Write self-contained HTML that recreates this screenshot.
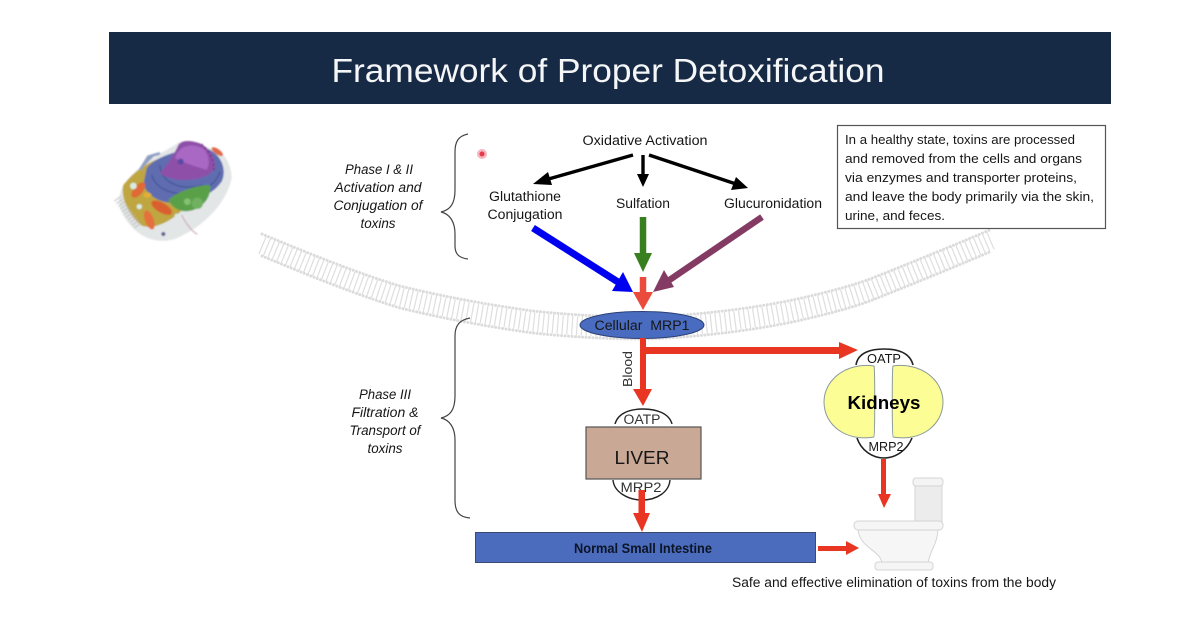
<!DOCTYPE html>
<html><head><meta charset="utf-8"><style>
html,body{margin:0;padding:0;background:#fff;width:1200px;height:627px;overflow:hidden}
svg{display:block}
text{font-family:"Liberation Sans",sans-serif;fill:#161616}
</style></head><body>
<svg width="1200" height="627" viewBox="0 0 1200 627" xmlns="http://www.w3.org/2000/svg">
<defs><filter id="b" x="-5%" y="-5%" width="110%" height="110%"><feGaussianBlur stdDeviation="2"/></filter></defs>
<rect width="1200" height="627" fill="#fff"/>
<rect x="109" y="32" width="1002" height="72" fill="#172a45"/>
<text x="608" y="82" font-size="33" text-anchor="middle" textLength="553" lengthAdjust="spacingAndGlyphs" style="fill:#f5f6f7">Framework of Proper Detoxification</text>

<!-- membrane -->
<g fill="none">
<path d="M262 245C310 265 360 285 400 297C445 308 490 316 533 322C570 326 610 328 640 328C700 327 770 317 810 307C840 300 860 294 875 288C900 278 950 258 992 240" stroke="#dedede" stroke-width="19" stroke-dasharray="1.2 3.6"/>
<path d="M262 234C310 254 360 274 400 286C445 297 490 305 533 311C570 315 610 317 640 317C700 316 770 306 810 296C840 289 860 283 875 277C900 267 950 247 992 229" stroke="#dcdcdc" stroke-width="3" stroke-linecap="round" stroke-dasharray="0.1 3.4"/>
<path d="M262 256C310 276 360 296 400 308C445 319 490 327 533 333C570 337 610 339 640 339C700 338 770 328 810 318C840 311 860 305 875 299C900 289 950 269 992 251" stroke="#dcdcdc" stroke-width="3" stroke-linecap="round" stroke-dasharray="0.1 3.4"/>
</g>

<!-- cell -->
<g transform="translate(110 135) scale(.3333)" filter="url(#b)">
<path d="M40 150C20 190 20 230 70 280C110 320 170 330 220 300C290 265 350 200 365 130C365 90 345 60 325 45L210 20C170 50 100 70 40 150Z" fill="#e3e6e6"/>
<path d="M40 150C80 100 120 80 150 70L230 210C190 260 130 285 95 272C60 245 30 190 40 150Z" fill="#bfa63f"/>
<path d="M110 100C130 70 200 40 290 40C340 60 350 110 335 140C300 190 250 190 210 200C160 210 120 190 100 150Z" fill="#5f6db0"/>
<path d="M125 120C140 170 210 190 270 165C300 155 320 140 330 110M150 90C150 140 210 170 280 150" stroke="#46559a" stroke-width="4" fill="none"/>
<path d="M90 105L115 65L150 55M100 90L130 60" stroke="#8f9fc4" stroke-width="8" fill="none"/>
<path d="M150 115C170 90 195 55 205 30C215 15 240 15 270 25C300 40 320 70 315 100C300 125 260 135 220 135C190 135 165 125 150 115Z" fill="#8e50a8"/>
<path d="M195 70C205 30 250 20 285 45C300 70 298 90 290 105C260 95 225 85 195 70Z" fill="#a868c4"/>
<path d="M275 28C300 50 312 75 312 105" stroke="#5b2a70" stroke-width="5" stroke-dasharray="4 10" fill="none"/>
<circle cx="212" cy="80" r="9" fill="#5a4aa5"/>
<path d="M175 195C200 170 260 150 300 150C305 175 290 210 250 225C220 235 190 225 175 195Z" fill="#5aa04a"/>
<circle cx="262" cy="205" r="17" fill="#70b060"/><circle cx="232" cy="200" r="10" fill="#85c070"/>
<ellipse cx="85" cy="165" rx="28" ry="14" fill="#df6a35" transform="rotate(-50 85 165)"/>
<ellipse cx="155" cy="218" rx="35" ry="15" fill="#d9602f" transform="rotate(30 155 218)"/>
<ellipse cx="118" cy="255" rx="30" ry="13" fill="#e4703d" transform="rotate(70 118 255)"/>
<ellipse cx="112" cy="180" rx="12" ry="8" fill="#e0b030"/>
<circle cx="70" cy="153" r="10" fill="#d8ece4"/><circle cx="88" cy="215" r="8" fill="#d8ece4"/><circle cx="200" cy="242" r="6" fill="#d8ece4"/>
<path d="M22 190L85 275" stroke="#bcbcbc" stroke-width="24" stroke-dasharray="3 7" fill="none"/>
<ellipse cx="322" cy="50" rx="20" ry="8" fill="#e06a4a" transform="rotate(35 322 50)"/>
<circle cx="160" cy="297" r="6" fill="#5a5a90"/>
<path d="M215 240C225 260 240 285 262 298" stroke="#c9a0b0" stroke-width="3" fill="none"/>
</g>

<!-- pointer dot -->
<circle cx="482" cy="154" r="5" fill="#f5b5c0"/><circle cx="482" cy="154" r="2.5" fill="#e53a4a"/>

<!-- braces -->
<g fill="none" stroke="#444" stroke-width="1.2">
<path d="M468 134C458 136 455 142 455 152L455 190C455 204 450 210 441 212C450 214 455 222 455 234L455 246C455 254 459 258 468 259"/>
<path d="M470 318C459 320 455 326 455 336L455 396C455 410 450 416 441 418C450 420 455 428 455 440L455 500C455 512 459 517 470 518"/>
</g>

<!-- left labels -->
<g font-size="13.5" font-style="italic" text-anchor="middle">
<text x="379" y="174" textLength="68" lengthAdjust="spacingAndGlyphs">Phase I &amp; II</text>
<text x="378" y="192" textLength="87" lengthAdjust="spacingAndGlyphs">Activation and</text>
<text x="378" y="210" textLength="89" lengthAdjust="spacingAndGlyphs">Conjugation of</text>
<text x="378" y="228" textLength="35" lengthAdjust="spacingAndGlyphs">toxins</text>
<text x="385" y="399" textLength="52" lengthAdjust="spacingAndGlyphs">Phase III</text>
<text x="385" y="417" textLength="67" lengthAdjust="spacingAndGlyphs">Filtration &amp;</text>
<text x="385" y="435" textLength="71" lengthAdjust="spacingAndGlyphs">Transport of</text>
<text x="385" y="453" textLength="35" lengthAdjust="spacingAndGlyphs">toxins</text>
</g>

<!-- top labels -->
<g font-size="13.5" text-anchor="middle">
<text x="645" y="145" textLength="125" lengthAdjust="spacingAndGlyphs">Oxidative Activation</text>
<text x="525" y="201" textLength="72" lengthAdjust="spacingAndGlyphs">Glutathione</text>
<text x="525" y="219" textLength="75" lengthAdjust="spacingAndGlyphs">Conjugation</text>
<text x="643" y="208" textLength="54" lengthAdjust="spacingAndGlyphs">Sulfation</text>
<text x="773" y="208" textLength="98" lengthAdjust="spacingAndGlyphs">Glucuronidation</text>
</g>

<!-- note box -->
<rect x="837.5" y="125.5" width="268" height="103" fill="#fff" stroke="#555" stroke-width="1.2"/>
<g font-size="13.2">
<text x="845" y="144" textLength="230" lengthAdjust="spacingAndGlyphs">In a healthy state, toxins are processed</text>
<text x="845" y="163" textLength="237" lengthAdjust="spacingAndGlyphs">and removed from the cells and organs</text>
<text x="845" y="182" textLength="232" lengthAdjust="spacingAndGlyphs">via enzymes and transporter proteins,</text>
<text x="845" y="201" textLength="249" lengthAdjust="spacingAndGlyphs">and leave the body primarily via the skin,</text>
<text x="845" y="220" textLength="100" lengthAdjust="spacingAndGlyphs">urine, and feces.</text>
</g>

<!-- black arrows -->
<g fill="#000">
<path d="M633 155L545 180" stroke="#000" stroke-width="3.4"/><path d="M533 184L548 172L552 185Z"/>
<path d="M643 155L643 176" stroke="#000" stroke-width="3.4"/><path d="M643 187L637 174L649 174Z"/>
<path d="M649 155L736 184" stroke="#000" stroke-width="3.4"/><path d="M748 188L731 190L736 177Z"/>
</g>

<!-- coloured arrows -->
<path d="M533 228L618 282" stroke="#0000f0" stroke-width="7" fill="none"/><path d="M633 292L612 291L623 272Z" fill="#0000f0"/>
<path d="M643 217L643 256" stroke="#38801f" stroke-width="6.5" fill="none"/><path d="M643 272L634 253L652 253Z" fill="#38801f"/>
<path d="M762 217L668 281" stroke="#843b63" stroke-width="6.5" fill="none"/><path d="M653 292L664 270L674 287Z" fill="#843b63"/>
<path d="M643 277L643 295" stroke="#ea4b3c" stroke-width="6.5" fill="none"/><path d="M643 310L633 292L653 292Z" fill="#ea4b3c"/>

<!-- MRP1 ellipse -->
<ellipse cx="642" cy="325" rx="62" ry="13.5" fill="#4a6cc0" stroke="#2b3f73" stroke-width="1"/>
<text x="642" y="330" font-size="13.5" text-anchor="middle" textLength="95" lengthAdjust="spacingAndGlyphs" xml:space="preserve">Cellular  MRP1</text>

<!-- red arrows -->
<g fill="#e93623">
<rect x="640" y="338" width="6" height="52"/><path d="M643 406L633 389L652 389Z"/>
<rect x="643" y="347" width="196" height="7"/><path d="M858 350L839 342L839 359Z"/>
</g>
<text transform="translate(632 387) rotate(-90)" font-size="12.5" style="fill:#333" textLength="36" lengthAdjust="spacingAndGlyphs">Blood</text>

<!-- Liver -->
<path d="M615 424C618 413 630 409 643 409C656 409 669 413 672 424" fill="#fff" stroke="#222" stroke-width="1.4"/>
<text x="642" y="424" font-size="13.5" text-anchor="middle" style="fill:#333" textLength="37" lengthAdjust="spacingAndGlyphs">OATP</text>
<path d="M613 480C614 492 628 500 642 500C657 500 669 492 670 480" fill="#fff" stroke="#222" stroke-width="1.4"/>
<rect x="586" y="427" width="115" height="52" fill="#c9a896" stroke="#555" stroke-width="1.2"/>
<text x="642" y="464" font-size="18" text-anchor="middle" textLength="55" lengthAdjust="spacingAndGlyphs">LIVER</text>
<text x="641" y="492" font-size="13.5" text-anchor="middle" style="fill:#333" textLength="41" lengthAdjust="spacingAndGlyphs">MRP2</text>
<g fill="#e93623"><rect x="638.5" y="490" width="6.5" height="24"/><path d="M642 532L633 513L650 513Z"/></g>

<!-- Kidneys -->
<path d="M856 365C858 352 872 349 884 349C896 349 910 352 913 365" fill="#fff" stroke="#222" stroke-width="1.6"/>
<path d="M857 438C861 450 872 458 884 458C896 458 907 450 912 438" fill="#fff" stroke="#222" stroke-width="1.6"/>
<path d="M874 366C846 362 824 380 824 402C824 425 846 442 874 437C875 437 875 368 874 366Z" fill="#fdfd95" stroke="#8a9a9a" stroke-width="1"/>
<path d="M893 366C921 362 943 380 943 402C943 425 921 442 893 437C892 437 892 368 893 366Z" fill="#fdfd95" stroke="#8a9a9a" stroke-width="1"/>
<text x="884" y="363" font-size="12.5" text-anchor="middle" textLength="34" lengthAdjust="spacingAndGlyphs">OATP</text>
<text x="884" y="409" font-size="18" font-weight="bold" text-anchor="middle" textLength="73" lengthAdjust="spacingAndGlyphs" style="fill:#000">Kidneys</text>
<text x="886" y="451" font-size="12.5" text-anchor="middle" textLength="35" lengthAdjust="spacingAndGlyphs">MRP2</text>
<g fill="#e93623"><rect x="881" y="459" width="5" height="37"/><path d="M884 508L878 494L891 494Z"/></g>

<!-- Intestine -->
<rect x="475.5" y="532.5" width="340" height="30" fill="#4b6cbd" stroke="#3a4a70" stroke-width="1"/>
<text x="643" y="553" font-size="13.5" font-weight="bold" text-anchor="middle" textLength="138" lengthAdjust="spacingAndGlyphs" style="fill:#0c1526">Normal Small Intestine</text>
<g fill="#e93623"><rect x="818" y="546" width="29" height="5"/><path d="M859 548L846 541L846 555Z"/></g>

<!-- Toilet -->
<g fill="#f0f0f0" stroke="#d4d4d4" stroke-width="1">
<rect x="915" y="485" width="27" height="38" fill="#ececec"/>
<rect x="913" y="478" width="30" height="8" rx="3" fill="#f4f4f4"/>
<path d="M858 530L938 530C937 545 930 550 928 563L882 563C880 550 860 548 858 530Z" fill="#f6f6f6"/>
<rect x="854" y="521" width="89" height="9" rx="4" fill="#f5f5f5"/>
<rect x="875" y="562" width="58" height="8" rx="3" fill="#f5f5f5"/>
</g>

<text x="894" y="587" font-size="13.5" text-anchor="middle" textLength="324" lengthAdjust="spacingAndGlyphs">Safe and effective elimination of toxins from the body</text>
</svg>
</body></html>
